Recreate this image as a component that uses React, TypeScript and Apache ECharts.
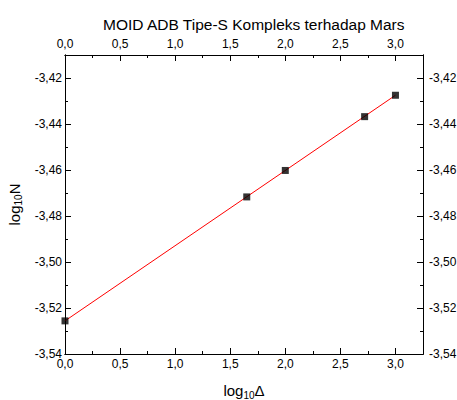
import React, { useEffect, useRef } from "react";
import * as echarts from "echarts";

const titleText = "MOID ADB Tipe-S Kompleks terhadap Mars";
const logDelta = [0.0, 1.65, 2.0, 2.72, 3.0];
const logN = [-3.5256, -3.4717, -3.4602, -3.4368, -3.4275];
const fitX = [0.0, 3.0];
const fitY = [-3.5256, -3.4275];

const FONT = "'Liberation Sans', Arial, sans-serif";

export default function App() {
  const ref = useRef<HTMLDivElement>(null);
  useEffect(() => {
    if (!ref.current) return;
    const chart = echarts.init(ref.current, undefined, { renderer: "svg" });
    const xMin = 0, xMax = 3.25, yMin = -3.54, yMax = -3.41;
    const fx = (v: number) => v.toFixed(1).replace(".", ",");
    const fy = (v: number) => v.toFixed(2).replace(".", ",");
    const lbl = { color: "#000", fontSize: 12, fontFamily: FONT };
    const xAx = (pos: string, major: boolean, labels: boolean, extra: any = {}) => ({
      type: "value",
      position: pos,
      min: xMin,
      max: xMax,
      interval: major ? 0.5 : 0.25,
      axisLine: { show: true, onZero: false, lineStyle: { color: "#000", width: 1 } },
      axisTick: { show: true, inside: true, length: major ? 6 : 3, lineStyle: { color: "#000", width: 1 } },
      axisLabel: labels
        ? { show: true, ...lbl, margin: pos === "top" ? 5 : 4, formatter: fx, showMaxLabel: false, showMinLabel: true }
        : { show: false },
      splitLine: { show: false },
      ...extra,
    });
    const yAx = (pos: string, major: boolean, labels: boolean, extra: any = {}) => ({
      type: "value",
      position: pos,
      min: yMin,
      max: yMax,
      interval: major ? 0.02 : 0.01,
      axisLine: { show: true, onZero: false, lineStyle: { color: "#000", width: 1 } },
      axisTick: { show: true, inside: true, length: major ? 6 : 3, lineStyle: { color: "#000", width: 1 } },
      axisLabel: labels
        ? { show: true, ...lbl, margin: pos === "left" ? 3 : 6, formatter: fy, showMaxLabel: false, showMinLabel: true }
        : { show: false },
      splitLine: { show: false },
      ...extra,
    });
    const rich = {
      a: { fontSize: 15, fontFamily: FONT, color: "#000", lineHeight: 19 },
      sub: { fontSize: 10, fontFamily: FONT, color: "#000", lineHeight: 10, verticalAlign: "bottom" },
    };
    chart.setOption({
      animation: false,
      title: {
        text: titleText,
        left: 98,
        top: 11,
        textStyle: { fontSize: 15.5, fontWeight: "normal", color: "#000", fontFamily: FONT },
      },
      grid: { left: 65, right: 34, top: 55, bottom: 46, outerBoundsMode: "none" },
      xAxis: [
        xAx("bottom", true, true, {
          name: "{a|log}{sub|10}{a|Δ}",
          nameLocation: "middle",
          nameGap: 27,
          nameTextStyle: { rich },
        }),
        xAx("bottom", false, false),
        xAx("top", true, true),
        xAx("top", false, false),
      ],
      yAxis: [
        yAx("left", true, true, {
          name: "{a|log}{sub|10}{a|N}",
          nameLocation: "middle",
          nameGap: 40,
          nameRotate: 90,
          nameTextStyle: { rich },
        }),
        yAx("left", false, false),
        yAx("right", true, true),
        yAx("right", false, false),
      ],
      series: [
        {
          type: "line",
          xAxisIndex: 0,
          yAxisIndex: 0,
          data: fitX.map((x, i) => [x, fitY[i]]),
          showSymbol: false,
          symbol: "none",
          lineStyle: { color: "#ff0000", width: 1 },
          z: 2,
        },
        {
          type: "scatter",
          xAxisIndex: 0,
          yAxisIndex: 0,
          data: logDelta.map((x, i) => [x, logN[i]]),
          symbol: "rect",
          symbolSize: 7,
          itemStyle: { color: "#000" },
          z: 3,
        },
      ],
    });
    return () => chart.dispose();
  }, []);
  return (
    <div
      ref={ref}
      style={{ position: "fixed", left: 0, top: 0, width: 457, height: 400, background: "#fff" }}
    />
  );
}
